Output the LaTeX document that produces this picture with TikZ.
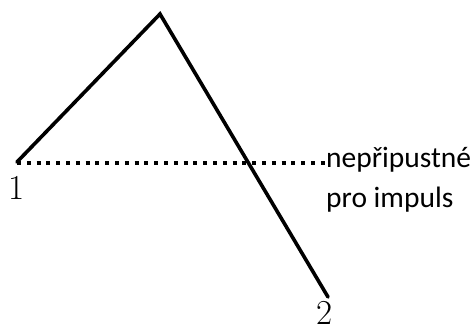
\documentclass[tikz,border=0pt]{standalone}
\usepackage{fontspec}
\setmainfont{Carlito}
\newfontfamily\numfont{Latin Modern Roman}
\tikzset{
  solidline/.style={line width=3.6pt, line cap=round, line join=miter},
  dotline/.style={line width=3.8pt, dash pattern=on 4pt off 5.8pt},
  numlabel/.style={inner sep=0pt, font=\numfont\fontsize{35}{40}\selectfont},
  note/.style={inner sep=0pt, align=left, anchor=base west, font=\fontsize{29.5}{40}\selectfont}
}
\begin{document}
\begin{tikzpicture}[x=1pt,y=-1pt]
\useasboundingbox (0,0) rectangle (473,324);
\coordinate (a) at (17,162);
\coordinate (b) at (160,14);
\coordinate (c) at (328,297);
\coordinate (d) at (17,163);
\coordinate (e) at (326,163);
\draw[solidline] (a) -- (b) -- (c);
\draw[dotline] (d) -- (e);
\node[note] (t) at (326,207) {nepřipustné\\pro impuls};
\node[numlabel, anchor=north] (n1) at (17,176.5) {1};
\node[numlabel, anchor=north] (n2) at (325,301.5) {2};
\end{tikzpicture}
\end{document}
